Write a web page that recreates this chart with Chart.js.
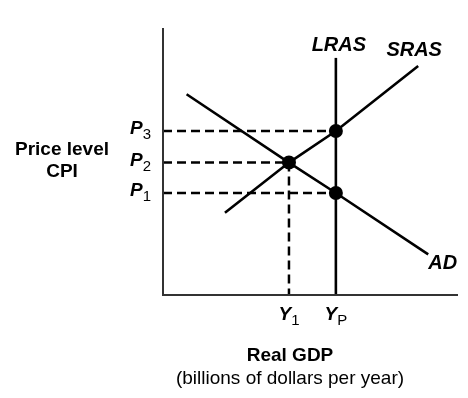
<!DOCTYPE html>
<html><head><meta charset="utf-8">
<script src="https://cdn.jsdelivr.net/npm/chart.js@4.4.1/dist/chart.umd.min.js"></script>
<style>html,body{margin:0;padding:0;background:#fff}#wrap{width:468px;height:398px}</style>
</head><body><div id="wrap"><canvas id="c" width="468" height="398"></canvas></div>
<script>
// Levels (axis range 0..100 in each direction)
const priceLevels = { P1: 38.2, P2: 49.6, P3: 61.4 };
const outputLevels = { Y1: 42.7, YP: 58.6 };
const adCurve = [[8.0, 75.2], [42.7, 49.6], [58.6, 38.2], [89.9, 15.2]];
const srasCurve = [[21.0, 30.8], [42.7, 49.6], [58.6, 61.4], [86.5, 85.8]];
const lrasLine = [[58.6, 0], [58.6, 88.8]];
const equilibria = [[58.6, 61.4], [42.7, 49.6], [58.6, 38.2]];
const curveLabels = ["LRAS", "SRAS", "AD"];
const yTickLabels = [["P", "3", 61.4], ["P", "2", 49.6], ["P", "1", 38.2]];
const xTickLabels = [["Y", "1", 42.7], ["Y", "P", 58.6]];
const yTitle = ["Price level", "CPI"];
const xTitle = ["Real GDP", "(billions of dollars per year)"];

const pts = a => a.map(p => ({ x: p[0], y: p[1] }));
const solid = (data) => ({ type: 'line', data: pts(data), borderColor: '#000', borderWidth: 2.6, pointRadius: 0, fill: false, tension: 0, clip: false });
const dashed = (data) => ({ type: 'line', data: pts(data), borderColor: '#000', borderWidth: 2.5, borderDash: [9, 5], pointRadius: 0, fill: false, tension: 0, clip: false });

const F = '"Liberation Sans", Arial, Helvetica, sans-serif';

const decor = {
  id: 'decor',
  afterDatasetsDraw(chart) {
    const { ctx, chartArea: a, scales: { x, y } } = chart;
    ctx.save();
    // axes
    ctx.strokeStyle = '#333';
    ctx.lineWidth = 2;
    ctx.beginPath();
    ctx.moveTo(a.left, a.top);
    ctx.lineTo(a.left, a.bottom);
    ctx.lineTo(a.right, a.bottom);
    ctx.stroke();
    ctx.fillStyle = '#000';
    ctx.textBaseline = 'middle';
    // y tick labels with subscripts
    yTickLabels.forEach(([m, s, v]) => {
      const py = y.getPixelForValue(v);
      ctx.font = 'italic bold 19px ' + F;
      const mw = ctx.measureText(m).width;
      ctx.font = '15px ' + F;
      const sw = ctx.measureText(s).width;
      const right = a.left - 12;
      ctx.textAlign = 'left';
      ctx.font = 'italic bold 19px ' + F;
      ctx.fillText(m, right - sw - mw, py - 2);
      ctx.font = '15px ' + F;
      ctx.fillText(s, right - sw, py + 4);
    });
    // x tick labels
    xTickLabels.forEach(([m, s, v]) => {
      const px = x.getPixelForValue(v);
      ctx.font = 'italic bold 19px ' + F;
      const mw = ctx.measureText(m).width;
      ctx.font = '15px ' + F;
      const sw = ctx.measureText(s).width;
      const left = px - (mw + sw) / 2;
      ctx.textAlign = 'left';
      ctx.font = 'italic bold 19px ' + F;
      ctx.fillText(m, left, a.bottom + 20);
      ctx.font = '15px ' + F;
      ctx.fillText(s, left + mw, a.bottom + 26);
    });
    // curve labels
    ctx.font = 'italic bold 20px ' + F;
    ctx.textAlign = 'center';
    ctx.fillText(curveLabels[0], x.getPixelForValue(lrasLine[1][0]) + 3, y.getPixelForValue(lrasLine[1][1]) - 12);
    ctx.fillText(curveLabels[1], x.getPixelForValue(srasCurve[3][0]) - 4, y.getPixelForValue(srasCurve[3][1]) - 15);
    ctx.textAlign = 'left';
    ctx.fillText(curveLabels[2], x.getPixelForValue(adCurve[3][0]), y.getPixelForValue(adCurve[3][1]) + 9);
    // axis titles
    ctx.textAlign = 'center';
    ctx.font = 'bold 19px ' + F;
    ctx.fillText(yTitle[0], 62, 150);
    ctx.fillText(yTitle[1], 62, 172);
    ctx.fillText(xTitle[0], 290, 356);
    ctx.font = '19px ' + F;
    ctx.fillText(xTitle[1], 290, 379);
    ctx.restore();
  }
};

new Chart(document.getElementById('c'), {
  type: 'line',
  data: {
    datasets: [
      dashed([[0, priceLevels.P3], [outputLevels.YP, priceLevels.P3]]),
      dashed([[0, priceLevels.P2], [outputLevels.Y1, priceLevels.P2], [outputLevels.Y1, 0]]),
      dashed([[0, priceLevels.P1], [outputLevels.YP, priceLevels.P1]]),
      solid(lrasLine),
      solid(adCurve),
      solid(srasCurve),
      { type: 'scatter', data: pts(equilibria), pointRadius: 7, pointHoverRadius: 7, backgroundColor: '#000', borderColor: '#000', borderWidth: 0, clip: false }
    ]
  },
  options: {
    responsive: false,
    animation: false,
    events: [],
    layout: { padding: { left: 163, right: 10, top: 28, bottom: 103 } },
    plugins: { legend: { display: false }, tooltip: { enabled: false } },
    scales: {
      x: { type: 'linear', min: 0, max: 100, display: false },
      y: { type: 'linear', min: 0, max: 100, display: false }
    }
  },
  plugins: [decor]
});
</script>
</body></html>
